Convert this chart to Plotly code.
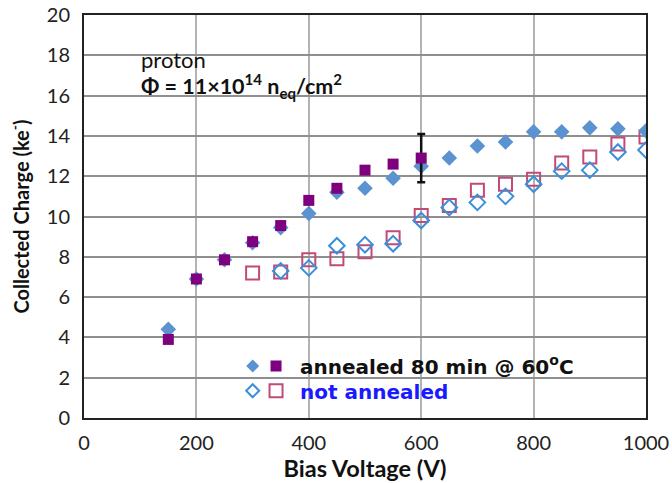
import plotly.graph_objects as go

# Bias voltage (V) for each measured series
v_annealed_dia = [150, 200, 250, 300, 350, 400, 450, 500, 550, 600,
                  650, 700, 750, 800, 850, 900, 950, 1000]
v_annealed_sq = [150, 200, 250, 300, 350, 400, 450, 500, 550, 600]
v_not_sq = [300, 350, 400, 450, 500, 550, 600, 650, 700, 750,
            800, 850, 900, 950, 1000]
v_not_dia = [350, 400, 450, 500, 550, 600, 650, 700, 750, 800,
             850, 900, 950, 1000]

# Collected charge (ke-)
q_annealed_dia = [4.4, 6.9, 7.85, 8.7, 9.45, 10.15, 11.2, 11.4, 11.9, 12.5,
                  12.9, 13.5, 13.7, 14.2, 14.2, 14.4, 14.35, 14.25]
q_annealed_sq = [3.9, 6.9, 7.85, 8.75, 9.55, 10.8, 11.4, 12.3, 12.6, 12.9]
q_annealed_sq_err = [0, 0, 0, 0, 0, 0, 0, 0, 0, 1.2]
q_not_sq = [7.2, 7.25, 7.85, 7.9, 8.25, 8.95, 10.05, 10.55, 11.3, 11.6,
            11.85, 12.65, 12.95, 13.6, 13.95]
q_not_dia = [7.3, 7.45, 8.55, 8.6, 8.65, 9.8, 10.45, 10.7, 11.0, 11.6,
             12.25, 12.3, 13.2, 13.3]

x_ticks = [0, 200, 400, 600, 800, 1000]
y_ticks = [0, 2, 4, 6, 8, 10, 12, 14, 16, 18, 20]

label_annealed = "annealed 80 min @ 60<sup>o</sup>C"
label_not = "not annealed"
note_particle = "proton"
note_fluence = "<b>Φ = 11×10<sup>14</sup> n<sub>eq</sub>/cm<sup>2</sup></b>"

BLUE_FILL = "#5b93d0"
PURPLE = "#7f007f"
BLUE_OPEN = "#3a8fd9"
ROSE_OPEN = "#c04a78"

fig = go.Figure()

fig.add_trace(go.Scatter(
    x=v_not_sq, y=q_not_sq, mode="markers", name="<b>" + label_not + "</b>",
    marker=dict(symbol="square-open", size=13, color=ROSE_OPEN,
                line=dict(width=2, color=ROSE_OPEN)),
    legend="legend2", showlegend=True,
))
fig.add_trace(go.Scatter(
    x=v_not_dia, y=q_not_dia, mode="markers", name=label_not,
    marker=dict(symbol="diamond-open", size=12, color=BLUE_OPEN,
                line=dict(width=2, color=BLUE_OPEN)),
    showlegend=False,
))
fig.add_trace(go.Scatter(
    x=v_annealed_dia, y=q_annealed_dia, mode="markers", name=label_annealed,
    marker=dict(symbol="diamond", size=12, color=BLUE_FILL),
    showlegend=False,
))
fig.add_trace(go.Scatter(
    x=v_annealed_sq, y=q_annealed_sq, mode="markers",
    name="<b>" + label_annealed + "</b>",
    marker=dict(symbol="square", size=11, color=PURPLE),
    error_y=dict(type="data", array=q_annealed_sq_err, visible=True,
                 color="#111111", thickness=2.5, width=4),
    legend="legend", showlegend=True,
))

# white panels behind the notes and the key, over the grid
panels = [
    (0.0676, 0.764, 0.3363, 0.9305),
    (0.0676, 0.764, 0.532, 0.878),
    (0.2633, 0.0323, 0.9804, 0.1787),
]
shapes = []
for x0, y0, x1, y1 in panels:
    shapes.append(dict(type="rect", xref="paper", yref="paper",
                       x0=x0, y0=y0, x1=x1, y1=y1, layer="between",
                       fillcolor="white", line=dict(width=0)))

# diamond keys next to the square keys in the legend
KEY_X = 0.3002
shapes.append(dict(type="path", xref="paper", yref="paper",
                   xsizemode="pixel", ysizemode="pixel",
                   xanchor=KEY_X, yanchor=0.129,
                   path="M -6.5,0 L 0,6.5 L 6.5,0 L 0,-6.5 Z",
                   fillcolor=BLUE_FILL, line=dict(width=0), layer="above"))
shapes.append(dict(type="path", xref="paper", yref="paper",
                   xsizemode="pixel", ysizemode="pixel",
                   xanchor=KEY_X, yanchor=0.0677,
                   path="M -6.5,0 L 0,6.5 L 6.5,0 L 0,-6.5 Z",
                   fillcolor="white", line=dict(width=2, color=BLUE_OPEN),
                   layer="above"))

axis_font = dict(family="Lato", size=20, color="#222222")

fig.update_layout(
    template="none",
    width=672, height=483,
    margin=dict(l=84, r=26, t=15, b=65, autoexpand=False),
    paper_bgcolor="white", plot_bgcolor="white",
    shapes=shapes,
    xaxis=dict(
        range=[0, 1000], tickvals=x_ticks, ticktext=[str(v) for v in x_ticks],
        showgrid=True, gridcolor="#b3b3b3", gridwidth=1.5,
        showline=True, linecolor="#222222", linewidth=2, mirror=True,
        zeroline=False, ticks="", tickfont=axis_font, ticklabelstandoff=6,
        automargin=False,
        title=dict(text="<b>Bias Voltage (V)</b>",
                   font=dict(family="Lato", size=23.5, color="#111111"), standoff=5),
    ),
    yaxis=dict(
        range=[0, 20], tickvals=y_ticks, ticktext=[str(v) for v in y_ticks],
        showgrid=True, gridcolor="#8f8f8f", gridwidth=1.5,
        showline=True, linecolor="#222222", linewidth=2, mirror=True,
        zeroline=False, ticks="", tickfont=axis_font, ticklabelstandoff=8,
        automargin=False,
        title=dict(text="<b>Collected Charge (ke<sup>-</sup>)</b>",
                   font=dict(family="Lato", size=20, color="#111111"), standoff=12),
    ),
    legend=dict(x=0.299, xanchor="left", y=0.129, yanchor="middle",
                bgcolor="rgba(0,0,0,0)", borderwidth=0, itemwidth=38,
                font=dict(family="DejaVu Sans", size=20, color="#111111"),
                itemclick=False),
    legend2=dict(x=0.299, xanchor="left", y=0.0677, yanchor="middle",
                 bgcolor="rgba(0,0,0,0)", borderwidth=0, itemwidth=38,
                 font=dict(family="DejaVu Sans", size=20, color="#1a1aff"),
                 itemclick=False),
    annotations=[
        dict(text=note_particle, xref="paper", yref="paper", x=0.097, y=0.89,
             xanchor="left", yanchor="middle", showarrow=False,
             font=dict(family="Lato", size=22, color="#111111")),
        dict(text=note_fluence, xref="paper", yref="paper", x=0.098, y=0.825,
             xanchor="left", yanchor="middle", showarrow=False,
             font=dict(family="Lato", size=21.5, color="#111111")),
    ],
)

fig.write_html("out.html")
